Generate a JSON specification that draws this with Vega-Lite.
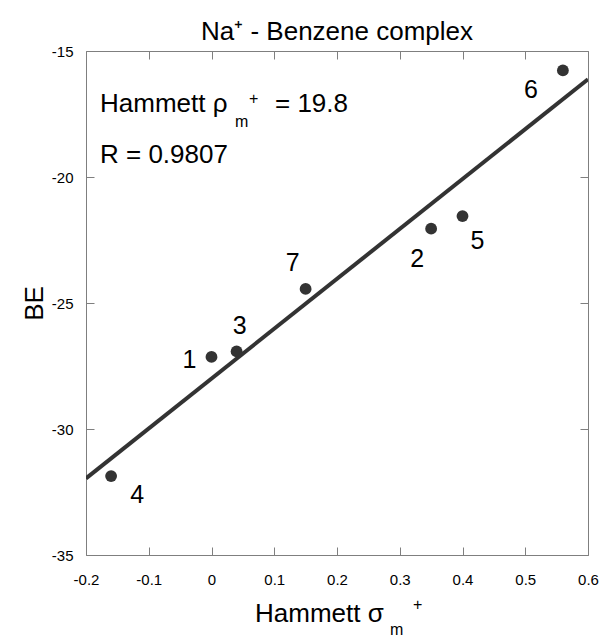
{
  "$schema": "https://vega.github.io/schema/vega-lite/v6.json",
  "autosize": {"type": "none"},
  "padding": {"left": 86, "top": 51, "right": 15, "bottom": 86},
  "width": 502,
  "height": 504,
  "background": "white",
  "title": {"text": "Na⁺ - Benzene complex", "font": "Liberation Sans", "fontSize": 26, "fontWeight": "normal", "color": "black", "anchor": "middle", "offset": -1},
  "datasets": {
    "pts": [
      {"id": 1, "sigma": 0.00, "BE": -27.14},
      {"id": 2, "sigma": 0.35, "BE": -22.05},
      {"id": 3, "sigma": 0.04, "BE": -26.92},
      {"id": 4, "sigma": -0.16, "BE": -31.87},
      {"id": 5, "sigma": 0.40, "BE": -21.55},
      {"id": 6, "sigma": 0.56, "BE": -15.77},
      {"id": 7, "sigma": 0.15, "BE": -24.44}
    ],
    "fit": [
      {"sigma": -0.2, "BE": -31.96},
      {"sigma": 0.6, "BE": -16.12}
    ]
  },
  "config": {
    "view": {"stroke": null},
    "axis": {
      "grid": false,
      "domainColor": "#7f7f7f",
      "tickColor": "#7f7f7f",
      "tickSize": -8,
      "labelFlush": false,
      "labelFont": "Liberation Sans",
      "labelFontSize": 15,
      "labelColor": "black",
      "titleFont": "Liberation Sans",
      "titleColor": "black",
      "titleFontWeight": "normal"
    }
  },
  "resolve": {"axis": {"x": "independent", "y": "independent"}},
  "layer": [
    {
      "data": {"name": "fit"},
      "mark": {"type": "line", "color": "#333333", "strokeWidth": 4, "clip": true},
      "encoding": {
        "x": {"field": "sigma", "type": "quantitative", "scale": {"domain": [-0.2, 0.6], "nice": false, "zero": false},
              "axis": {"orient": "bottom", "values": [-0.2, -0.1, 0, 0.1, 0.2, 0.3, 0.4, 0.5, 0.6], "labelExpr": "'' + datum.value", "labelPadding": 25, "title": null}},
        "y": {"field": "BE", "type": "quantitative", "scale": {"domain": [-35, -15], "nice": false, "zero": false},
              "axis": {"orient": "left", "values": [-35, -30, -25, -20, -15], "labelExpr": "'' + datum.value", "labelPadding": 21, "title": "BE", "titleFontSize": 26, "titlePadding": 4}}
      }
    },
    {
      "data": {"name": "pts"},
      "mark": {"type": "circle", "color": "#333333", "size": 140, "opacity": 1},
      "encoding": {
        "x": {"field": "sigma", "type": "quantitative", "axis": {"orient": "top", "values": [-0.2, -0.1, 0, 0.1, 0.2, 0.3, 0.4, 0.5, 0.6], "labels": false, "title": null}},
        "y": {"field": "BE", "type": "quantitative", "axis": {"orient": "right", "values": [-35, -30, -25, -20, -15], "labels": false, "title": null}}
      }
    },
    {"data": {"name": "pts"}, "transform": [{"filter": "datum.id == 1"}], "mark": {"type": "text", "font": "Liberation Sans", "fontSize": 25, "color": "black", "baseline": "middle", "dx": -22, "dy": 3}, "encoding": {"x": {"field": "sigma", "type": "quantitative", "axis": null}, "y": {"field": "BE", "type": "quantitative", "axis": null}, "text": {"field": "id"}}},
    {"data": {"name": "pts"}, "transform": [{"filter": "datum.id == 2"}], "mark": {"type": "text", "font": "Liberation Sans", "fontSize": 25, "color": "black", "baseline": "middle", "dx": -14, "dy": 30}, "encoding": {"x": {"field": "sigma", "type": "quantitative", "axis": null}, "y": {"field": "BE", "type": "quantitative", "axis": null}, "text": {"field": "id"}}},
    {"data": {"name": "pts"}, "transform": [{"filter": "datum.id == 3"}], "mark": {"type": "text", "font": "Liberation Sans", "fontSize": 25, "color": "black", "baseline": "middle", "dx": 3, "dy": -25}, "encoding": {"x": {"field": "sigma", "type": "quantitative", "axis": null}, "y": {"field": "BE", "type": "quantitative", "axis": null}, "text": {"field": "id"}}},
    {"data": {"name": "pts"}, "transform": [{"filter": "datum.id == 4"}], "mark": {"type": "text", "font": "Liberation Sans", "fontSize": 25, "color": "black", "baseline": "middle", "dx": 26, "dy": 19}, "encoding": {"x": {"field": "sigma", "type": "quantitative", "axis": null}, "y": {"field": "BE", "type": "quantitative", "axis": null}, "text": {"field": "id"}}},
    {"data": {"name": "pts"}, "transform": [{"filter": "datum.id == 5"}], "mark": {"type": "text", "font": "Liberation Sans", "fontSize": 25, "color": "black", "baseline": "middle", "dx": 15, "dy": 25}, "encoding": {"x": {"field": "sigma", "type": "quantitative", "axis": null}, "y": {"field": "BE", "type": "quantitative", "axis": null}, "text": {"field": "id"}}},
    {"data": {"name": "pts"}, "transform": [{"filter": "datum.id == 6"}], "mark": {"type": "text", "font": "Liberation Sans", "fontSize": 25, "color": "black", "baseline": "middle", "dx": -32, "dy": 20}, "encoding": {"x": {"field": "sigma", "type": "quantitative", "axis": null}, "y": {"field": "BE", "type": "quantitative", "axis": null}, "text": {"field": "id"}}},
    {"data": {"name": "pts"}, "transform": [{"filter": "datum.id == 7"}], "mark": {"type": "text", "font": "Liberation Sans", "fontSize": 25, "color": "black", "baseline": "middle", "dx": -13, "dy": -26}, "encoding": {"x": {"field": "sigma", "type": "quantitative", "axis": null}, "y": {"field": "BE", "type": "quantitative", "axis": null}, "text": {"field": "id"}}},
    {"data": {"values": [{}]}, "mark": {"type": "text", "align": "left", "baseline": "alphabetic", "font": "Liberation Sans", "fontSize": 26, "color": "black", "text": "Hammett ρ"}, "encoding": {"x": {"datum": -0.1777, "type": "quantitative", "axis": null}, "y": {"datum": -17.42, "type": "quantitative", "axis": null}}},
    {"data": {"values": [{}]}, "mark": {"type": "text", "align": "left", "baseline": "alphabetic", "font": "Liberation Sans", "fontSize": 16, "color": "black", "text": "m"}, "encoding": {"x": {"datum": 0.0375, "type": "quantitative", "axis": null}, "y": {"datum": -18.02, "type": "quantitative", "axis": null}}},
    {"data": {"values": [{}]}, "mark": {"type": "text", "align": "left", "baseline": "alphabetic", "font": "Liberation Sans", "fontSize": 16, "color": "black", "text": "+"}, "encoding": {"x": {"datum": 0.0598, "type": "quantitative", "axis": null}, "y": {"datum": -17.10, "type": "quantitative", "axis": null}}},
    {"data": {"values": [{}]}, "mark": {"type": "text", "align": "left", "baseline": "alphabetic", "font": "Liberation Sans", "fontSize": 26, "color": "black", "text": "= 19.8"}, "encoding": {"x": {"datum": 0.1012, "type": "quantitative", "axis": null}, "y": {"datum": -17.42, "type": "quantitative", "axis": null}}},
    {"data": {"values": [{}]}, "mark": {"type": "text", "align": "left", "baseline": "alphabetic", "font": "Liberation Sans", "fontSize": 26, "color": "black", "text": "R = 0.9807"}, "encoding": {"x": {"datum": -0.1777, "type": "quantitative", "axis": null}, "y": {"datum": -19.44, "type": "quantitative", "axis": null}}},
    {"data": {"values": [{}]}, "mark": {"type": "text", "align": "left", "baseline": "alphabetic", "font": "Liberation Sans", "fontSize": 26, "color": "black", "text": "Hammett σ"}, "encoding": {"x": {"datum": 0.0693, "type": "quantitative", "axis": null}, "y": {"datum": -37.66, "type": "quantitative", "axis": null}}},
    {"data": {"values": [{}]}, "mark": {"type": "text", "align": "left", "baseline": "alphabetic", "font": "Liberation Sans", "fontSize": 16, "color": "black", "text": "m"}, "encoding": {"x": {"datum": 0.2845, "type": "quantitative", "axis": null}, "y": {"datum": -38.18, "type": "quantitative", "axis": null}}},
    {"data": {"values": [{}]}, "mark": {"type": "text", "align": "left", "baseline": "alphabetic", "font": "Liberation Sans", "fontSize": 16, "color": "black", "text": "+"}, "encoding": {"x": {"datum": 0.3211, "type": "quantitative", "axis": null}, "y": {"datum": -37.18, "type": "quantitative", "axis": null}}}
  ]
}
